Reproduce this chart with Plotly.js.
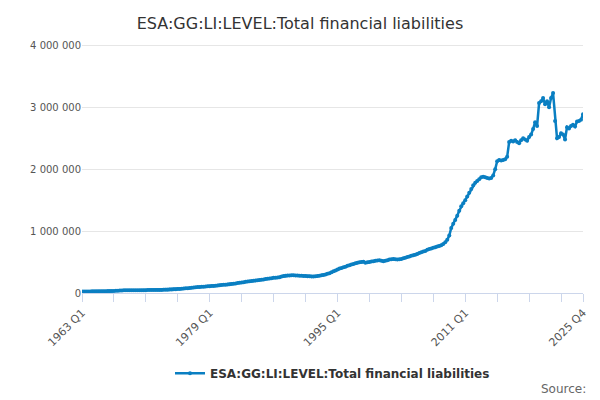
<!DOCTYPE html>
<html>
<head>
<meta charset="utf-8">
<script src="https://cdn.plot.ly/plotly-3.0.1.min.js"></script>
<style>body{margin:0}#chart{width:600px;height:400px}</style>
</head>
<body>
<div id="chart"></div>
<script>
// quarterly values, in thousands, 1963 Q1 .. 2025 Q4
var firstYear = 1963;
var valuesK = [
  25,25,26,26, 26,27,27,27, 28,28,29,29, 30,31,31,32, 33,35,38,40,
  42,43,43,44, 44,44,45,45, 45,46,46,46, 46,47,47,47, 48,48,49,49,
  50,51,52,53, 55,57,59,61, 63,66,69,72, 75,78,81,84, 88,92,95,98,
  100,103,106,109, 110,112,114,116, 120,124,128,132, 135,138,141,145,
  150,155,160,165, 170,175,180,185, 188,192,196,200, 205,210,215,220,
  225,230,235,240, 245,248,252,256, 265,275,280,282, 284,285,285,283,
  282,280,278,276, 274,272,270,268, 266,270,275,280, 285,290,300,310,
  320,335,350,365, 380,395,405,415, 425,440,450,460, 470,480,490,495,
  500,505,490,495, 500,510,515,520, 525,530,520,515, 520,530,540,545,
  550,545,540,545, 550,560,570,580, 590,600,610,620, 630,645,660,670,
  680,700,710,720, 730,740,750,760, 770,790,820,860, 930,1050,1120,1180,
  1250,1330,1400,1450, 1500,1560,1620,1680, 1740,1780,1810,1840,
  1870,1880,1870,1860, 1850,1860,1900,2000, 2130,2150,2140,2150,
  2160,2200,2440,2460, 2450,2470,2440,2420, 2470,2500,2480,2460,
  2520,2560,2650,2760, 2700,3070,3100,3150, 3050,3100,3000,3150,
  3230,2780,2500,2520, 2580,2560,2480,2680, 2660,2700,2720,2690,
  2770,2780,2800,2890
];
var seriesName = 'ESA:GG:LI:LEVEL:Total financial liabilities';

var quarters = valuesK.map(function (v, i) {
    return (firstYear + Math.floor(i / 4)) + ' Q' + (i % 4 + 1);
});
var values = valuesK.map(function (v) { return v * 1000; });

var tickvals = [], ticktext = [];
for (var i = 0; i < quarters.length; i += 16) {
    tickvals.push(quarters[i]);
    ticktext.push(i % 64 === 0 ? quarters[i] : '');
}
tickvals.push(quarters[quarters.length - 1]);
ticktext.push(quarters[quarters.length - 1]);

var data = [{
    type: 'scatter',
    mode: 'lines+markers',
    x: quarters,
    y: values,
    name: seriesName,
    line: {color: '#0a7fc2', width: 2.5},
    marker: {color: '#0a7fc2', size: 4}
}];

var layout = {
    width: 600, height: 400,
    margin: {l: 82, r: 17, t: 30, b: 103},
    font: {family: 'DejaVu Sans, sans-serif', size: 11, color: '#555'},
    separators: '. ',
    title: {text: 'ESA:GG:LI:LEVEL:Total financial liabilities', x: 0.5, y: 0.955,
            font: {size: 16, color: '#333'}},
    xaxis: {
        type: 'category', tickmode: 'array', tickvals: tickvals, ticktext: ticktext,
        tickangle: -45, ticks: 'outside', ticklen: 8, tickcolor: '#ccd6eb', automargin: false,
        showline: true, linecolor: '#ccd6eb', showgrid: false, range: [0, quarters.length - 1]
    },
    yaxis: {
        range: [0, 4250000], tickvals: [0, 1000000, 2000000, 3000000, 4000000],
        tickformat: ',', gridcolor: '#e6e6e6', zeroline: false, ticks: '', automargin: false,
        tickfont: {size: 10}
    },
    showlegend: true,
    legend: {orientation: 'h', x: 0.5, xanchor: 'center', y: -0.25, yanchor: 'top',
             font: {size: 12, color: '#333', weight: 'bold'}},
    annotations: [{text: 'Source:', xref: 'paper', yref: 'paper', x: 1.01, xanchor: 'right',
                   y: -0.33, yanchor: 'top', showarrow: false, font: {size: 12, color: '#666'}}]
};

Plotly.newPlot('chart', data, layout, {displayModeBar: false});
</script>
</body>
</html>
